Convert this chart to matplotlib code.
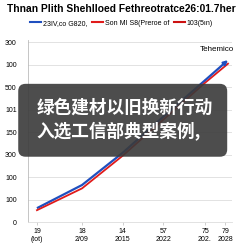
import matplotlib
matplotlib.use("Agg")
import matplotlib.pyplot as plt
from matplotlib.patches import FancyBboxPatch
from matplotlib.lines import Line2D

plt.rcParams["font.family"] = ["Liberation Sans", "DejaVu Sans"]

title = "Thnan Plith Shehlloed Fethreotratce26:01.7her"
series_names = ["23IV,co G820,", "Son MI S8(Preroe of", "103(5ın)"]
x = [0, 1, 1.9, 2.8, 3.73, 4.24]
blue = [62, 165, 308, 468, 631, 721]
red = [53, 150, 295, 455, 620, 705]
xtick_pos = [0, 1, 1.9, 2.8, 3.73, 4.18]
xtick_labels = ["19\n(tot)", "18\n2/09", "14\n2015", "57\n2022", "75\n202.", "79\n2028"]
ytick_pos = [0, 100, 200, 300, 400, 500, 600, 700, 800]
ytick_labels = ["0", "100", "100", "300", "150", "101", "500", "100", "300"]
annot = "Tehemico"
overlay = "绿色建材以旧换新行动\n入选工信部典型案例,"

fig = plt.figure(figsize=(2.43, 2.43), dpi=100)
ax = fig.add_axes([0.115, 0.086, 0.84, 0.749])
ax.plot(x[:-1], blue[:-1], color="#1f4fbf", lw=1.6, solid_capstyle="butt")
ax.plot(x, red, color="#e01b1b", lw=1.3)
ax.annotate("", xy=(x[-1], blue[-1]), xytext=(x[-2], blue[-2]),
            arrowprops=dict(arrowstyle="-|>", color="#1f4fbf", lw=1.6,
                            mutation_scale=6, shrinkA=0, shrinkB=0))
ax.text(x[-1] - 0.25, blue[-1] + 30, annot, fontsize=5.8, ha="center", va="bottom")

ax.set_xlim(-0.2, 4.33)
ax.set_ylim(0, 810)
ax.set_xticks(xtick_pos)
ax.set_xticklabels(xtick_labels, fontsize=5)
ax.set_yticks(ytick_pos)
ax.set_yticklabels(ytick_labels, fontsize=5)
ax.grid(axis="y", color="#dddddd", lw=0.6)
ax.set_axisbelow(True)
for s in ["top", "right"]:
    ax.spines[s].set_visible(False)
ax.spines["left"].set_color("#bbbbbb")
ax.spines["bottom"].set_color("#dddddd")
ax.spines["left"].set_linewidth(0.6)
ax.spines["bottom"].set_linewidth(0.6)
ax.tick_params(axis="y", length=0, pad=8)
ax.tick_params(axis="x", length=2, width=0.5, color="#bbbbbb", pad=2)

handles = [Line2D([], [], color="#1f4fbf", lw=1.5),
           Line2D([], [], color="#e01b1b", lw=1.5),
           Line2D([], [], color="#cc1111", lw=1.5)]
fig.legend(handles, series_names, loc="center", bbox_to_anchor=(0.5, 0.905), ncol=3,
           fontsize=5, frameon=False, handlelength=1.6, handletextpad=0.3,
           columnspacing=0.6)
fig.text(0.5, 0.962, title, ha="center", va="center", fontsize=7.4, fontweight="bold")

box = FancyBboxPatch((0.075, 0.355), 0.86, 0.30, boxstyle="round,pad=0,rounding_size=0.03",
                     transform=fig.transFigure, facecolor="#3a3a3a", alpha=0.9,
                     edgecolor="none", zorder=5)
fig.patches.append(box)
fig.text(0.15, 0.505, overlay, ha="left", va="center", fontsize=12.7, color="white",
         fontweight="bold", family=["Noto Sans CJK SC", "DejaVu Sans"],
         linespacing=1.35, zorder=6)

fig.savefig("out.png", dpi=100)
